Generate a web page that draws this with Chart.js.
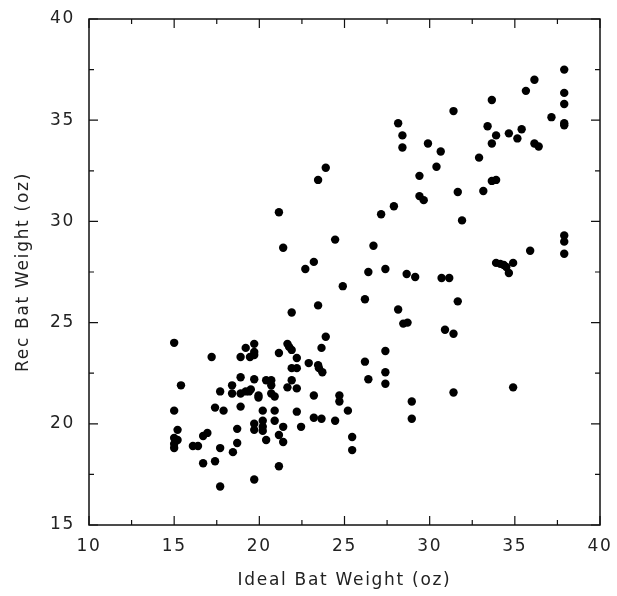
<!DOCTYPE html>
<html>
<head>
<meta charset="utf-8">
<script src="https://cdn.jsdelivr.net/npm/chart.js@4/dist/chart.umd.min.js"></script>
<style>
  html, body { margin: 0; padding: 0; background: #fff; }
  canvas { display: block; }
</style>
</head>
<body>
<canvas id="grafico" width="617" height="596"></canvas>
<script>
// ideal vs recommended bat weight
const idealPeso = [15, 15, 15.4, 15.2, 15, 15.2, 15, 15, 17.2, 17.7, 17.4, 17.9, 16.7, 16.95, 16.1, 16.4, 16.7, 17.4, 17.7, 17.7,
    18.45, 18.7, 18.7, 18.4, 18.4, 18.9, 18.9, 18.9, 18.9, 19.2, 19.4, 19.5, 19.2, 19.45, 19.7, 19.7, 19.7, 19.7, 19.7, 19.7,
    19.7, 19.95, 19.95, 20.2, 20.2, 20.2, 20.2, 20.4, 20.4, 20.7, 20.7, 20.7, 20.9, 20.9, 20.9, 21.15, 21.15, 21.4, 21.15, 21.4,
    21.4, 21.15, 21.65, 21.75, 21.9, 21.65, 21.9, 21.9, 22.2, 21.9, 22.2, 22.2, 22.2, 22.45, 22.7, 22.9, 23.2, 23.2, 23.2, 23.45,
    23.9, 23.45, 23.45, 23.5, 23.7, 23.65, 23.9, 23.65, 24.45, 24.45, 24.7, 24.7, 24.9, 25.2, 25.45, 25.45, 26.2, 26.2, 26.4, 26.4,
    26.7, 27.15, 27.4, 27.4, 27.4, 27.4, 27.9, 28.15, 28.4, 28.4, 28.15, 28.45, 28.7, 28.65, 28.95, 28.95, 29.15, 29.4, 29.4, 29.65,
    29.9, 30.4, 30.65, 30.7, 31.15, 30.9, 31.4, 31.4, 31.4, 31.65, 31.65, 31.9, 32.9, 33.15, 33.4, 33.65, 33.65, 33.9, 33.65, 33.9,
    33.9, 34.15, 34.35, 34.5, 34.65, 34.65, 34.9, 34.9, 35.15, 35.4, 35.65, 35.9, 36.15, 36.15, 36.4, 37.15, 37.9, 37.9, 37.9, 37.9,
    37.9, 37.9, 37.9, 37.9]
const recPeso = [24.0, 20.65, 21.9, 19.7, 19.3, 19.2, 19.0, 18.8, 23.3, 21.6, 20.8, 20.65, 19.4, 19.55, 18.9, 18.9, 18.05, 18.15, 18.8, 16.9,
    18.6, 19.05, 19.75, 21.9, 21.5, 22.3, 23.3, 20.85, 21.5, 21.6, 21.6, 21.7, 23.75, 23.3, 23.4, 23.55, 23.95, 22.2, 20.0, 19.7,
    17.25, 21.4, 21.3, 20.65, 20.15, 19.85, 19.65, 19.2, 22.15, 22.15, 21.9, 21.5, 21.35, 20.65, 20.15, 23.5, 30.45, 28.7, 19.45, 19.85,
    19.1, 17.9, 23.95, 23.8, 23.65, 21.8, 22.15, 22.75, 22.75, 25.5, 23.25, 21.75, 20.6, 19.85, 27.65, 23.0, 28.0, 21.4, 20.3, 32.05,
    32.65, 25.85, 22.9, 22.75, 22.55, 23.75, 24.3, 20.25, 29.1, 20.15, 21.4, 21.1, 26.8, 20.65, 19.35, 18.7, 26.15, 23.07, 27.5, 22.2,
    28.8, 30.35, 27.65, 23.6, 22.55, 21.98, 30.75, 34.85, 34.25, 33.65, 25.65, 24.95, 25.0, 27.4, 21.1, 20.25, 27.25, 32.25, 31.25, 31.05,
    33.85, 32.7, 33.45, 27.2, 27.2, 24.65, 35.45, 24.45, 21.55, 31.45, 26.05, 30.05, 33.15, 31.5, 34.7, 36.0, 33.85, 34.25, 32.0, 32.05,
    27.95, 27.9, 27.85, 27.75, 27.45, 34.35, 27.95, 21.8, 34.1, 34.55, 36.45, 28.55, 37.0, 33.85, 33.7, 35.15, 37.5, 36.35, 35.8, 34.85,
    34.75, 29.3, 29.0, 28.4]

const xTicks = [10, 15, 20, 25, 30, 35, 40]
const yTicks = [15, 20, 25, 30, 35, 40]
const xMenores = [12.5, 17.5, 22.5, 27.5, 32.5, 37.5]
const yMenores = [17.5, 22.5, 27.5, 32.5, 37.5]

const puntos = idealPeso.map((x, i) => ({ x: x, y: recPeso[i] }))

const fuente = { family: "'DejaVu Sans', sans-serif", size: 17 }
const colorTexto = "#222"

// frame plus inward ticks on all four sides
const marco = {
    id: "marco",
    beforeDraw(chart) {
        chart.ctx.letterSpacing = "1.7px"
    },
    afterDraw(chart) {
        const { ctx, chartArea: a, scales } = chart
        ctx.save()
        ctx.strokeStyle = "#111"
        ctx.lineWidth = 1.5
        ctx.strokeRect(a.left, a.top, a.right - a.left, a.bottom - a.top)
        ctx.lineWidth = 1.2
        const marcaX = (v, largo) => {
            const px = scales.x.getPixelForValue(v)
            ctx.moveTo(px, a.bottom); ctx.lineTo(px, a.bottom - largo)
            ctx.moveTo(px, a.top); ctx.lineTo(px, a.top + largo)
        }
        const marcaY = (v, largo) => {
            const py = scales.y.getPixelForValue(v)
            ctx.moveTo(a.left, py); ctx.lineTo(a.left + largo, py)
            ctx.moveTo(a.right, py); ctx.lineTo(a.right - largo, py)
        }
        ctx.beginPath()
        xTicks.forEach(v => marcaX(v, 9))
        xMenores.forEach(v => marcaX(v, 5))
        yTicks.forEach(v => marcaY(v, 9))
        yMenores.forEach(v => marcaY(v, 5))
        ctx.stroke()
        ctx.restore()
    }
}

// no extra room for the end labels, the layout padding handles it
const sinRelleno = s => {
    s.paddingTop = 0
    s.paddingBottom = 0
    s.paddingLeft = 0
    s.paddingRight = 0
}

new Chart(document.querySelector("#grafico"), {
    type: "scatter",
    data: {
        datasets: [{
            data: puntos,
            backgroundColor: "#000",
            borderWidth: 0,
            pointRadius: 4.2,
            pointHoverRadius: 4.2
        }]
    },
    options: {
        responsive: false,
        animation: false,
        events: [],
        layout: { padding: { left: 0, top: 19, right: 17, bottom: 0 } },
        plugins: { legend: { display: false }, tooltip: { enabled: false } },
        scales: {
            x: {
                type: "linear",
                min: 10,
                max: 40,
                afterBuildTicks: s => { s.ticks = xTicks.map(v => ({ value: v })) },
                afterFit: s => { s.height = 71; sinRelleno(s) },
                grid: { display: false, drawTicks: false },
                border: { display: false },
                ticks: { color: colorTexto, font: fuente, padding: 11, maxRotation: 0 },
                title: {
                    display: true,
                    text: "Ideal Bat Weight (oz)",
                    color: colorTexto,
                    font: fuente,
                    padding: { top: 0, bottom: 5 }
                }
            },
            y: {
                type: "linear",
                min: 15,
                max: 40,
                afterBuildTicks: s => { s.ticks = yTicks.map(v => ({ value: v })) },
                afterFit: s => { s.width = 89; sinRelleno(s) },
                grid: { display: false, drawTicks: false },
                border: { display: false },
                ticks: { color: colorTexto, font: fuente, padding: 14 },
                title: {
                    display: true,
                    text: "Rec Bat Weight (oz)",
                    color: colorTexto,
                    font: fuente,
                    padding: { top: 13, bottom: 0 }
                }
            }
        }
    },
    plugins: [marco]
});
</script>
</body>
</html>
